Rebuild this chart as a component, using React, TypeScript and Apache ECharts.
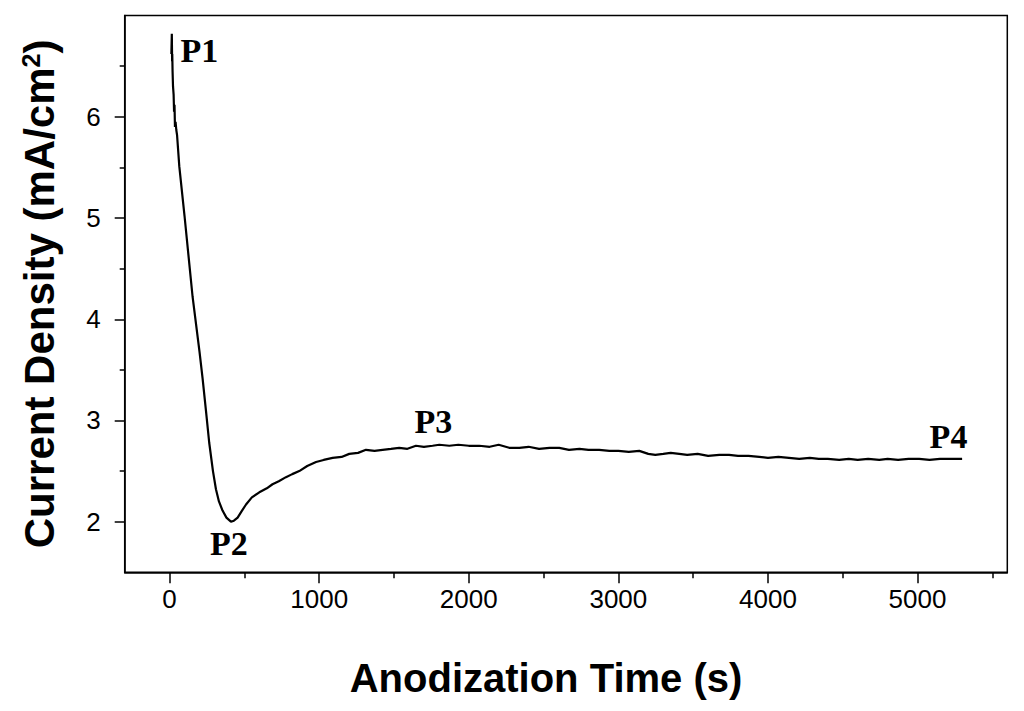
import React, { useEffect, useRef } from "react";
import * as echarts from "echarts";

// Anodization time (s)
const timeS: number[] = [
  12, 15, 17, 18, 20, 23, 27, 30, 33, 36, 40, 45, 50, 65, 100, 154, 200, 221, 243, 265, 290, 310, 330, 354, 380, 410,
  430, 455, 480, 511, 550, 600, 650, 688, 730, 778, 820, 867, 920, 979, 1030, 1090, 1150, 1201, 1260, 1313, 1370,
  1424, 1480, 1535, 1590, 1647, 1700, 1758, 1803, 1870, 1930, 2000, 2070, 2140, 2200, 2270, 2338, 2400, 2470, 2540,
  2605, 2670, 2740, 2800, 2872, 2940, 3000, 3070, 3140, 3200, 3247, 3300, 3350, 3407, 3460, 3530, 3600, 3675, 3740,
  3800, 3870, 3942, 4000, 4070, 4140, 4209, 4280, 4340, 4400, 4476, 4540, 4600, 4670, 4744, 4800, 4870, 4940, 5011,
  5080, 5150, 5220, 5298,
];

// Current density (mA/cm2)
const currentDensity: number[] = [
  6.62, 6.82, 6.55, 6.62, 6.45, 6.3, 6.22, 6.05, 6.12, 5.9, 5.95, 5.87, 5.82, 5.51, 5.02, 4.22, 3.68, 3.41, 3.1, 2.78,
  2.5, 2.32, 2.2, 2.11, 2.04, 2.0, 2.01, 2.04, 2.1, 2.17, 2.24, 2.29, 2.33, 2.37, 2.4, 2.44, 2.47, 2.5, 2.55, 2.59,
  2.61, 2.63, 2.64, 2.67, 2.68, 2.71, 2.7, 2.71, 2.72, 2.73, 2.72, 2.75, 2.74, 2.75, 2.76, 2.75, 2.76, 2.75, 2.75,
  2.74, 2.76, 2.73, 2.73, 2.74, 2.72, 2.73, 2.73, 2.71, 2.72, 2.71, 2.71, 2.7, 2.7, 2.69, 2.7, 2.67, 2.66, 2.67, 2.68,
  2.67, 2.66, 2.67, 2.65, 2.66, 2.66, 2.65, 2.65, 2.64, 2.63, 2.64, 2.63, 2.62, 2.63, 2.62, 2.62, 2.61, 2.62, 2.61,
  2.62, 2.61, 2.62, 2.61, 2.62, 2.62, 2.61, 2.62, 2.62, 2.62,
];

const xMajorTicks: number[] = [0, 1000, 2000, 3000, 4000, 5000];
const xMinorTicks: number[] = [500, 1500, 2500, 3500, 4500, 5500];
const yMajorTicks: number[] = [2, 3, 4, 5, 6];
const yMinorTicks: number[] = [2.5, 3.5, 4.5, 5.5, 6.5];

const pointLabels: string[] = ["P1", "P2", "P3", "P4"];
const pointTimes: number[] = [199, 396, 1763, 5207];
const pointValues: number[] = [6.66, 1.78, 2.99, 2.84];

const X_MIN = -300;
const X_MAX = 5600;
const Y_MIN = 1.5;
const Y_MAX = 7;

export default function App() {
  const ref = useRef<HTMLDivElement>(null);

  useEffect(() => {
    if (!ref.current) return;
    const chart = echarts.init(ref.current, undefined, { renderer: "svg" });
    const sans = "'Liberation Sans', Arial, sans-serif";
    const serif = "'Liberation Serif', 'Times New Roman', serif";
    const axisLine = { show: true, onZero: false, lineStyle: { color: "#000", width: 1.5 } };

    chart.setOption({
      animation: false,
      backgroundColor: "#fff",
      grid: {
        left: 124.7,
        right: 16.7,
        top: 15.6,
        bottom: 138.7,
        show: true,
        borderColor: "#000",
        borderWidth: 1.5,
        backgroundColor: "transparent",
      },
      xAxis: [
        {
          type: "value",
          min: X_MIN,
          max: X_MAX,
          position: "bottom",
          axisLine,
          splitLine: { show: false },
          axisTick: {
            show: true,
            inside: false,
            length: 11,
            customValues: xMajorTicks,
            lineStyle: { color: "#000", width: 1.5 },
          },
          axisLabel: {
            customValues: xMajorTicks,
            formatter: (v: number) => String(v),
            fontSize: 26,
            fontFamily: sans,
            color: "#000",
            margin: 14,
          },
          name: "Anodization Time (s)",
          nameLocation: "middle",
          nameGap: 86,
          nameTextStyle: {
            fontSize: 40,
            fontWeight: "bold",
            fontFamily: sans,
            color: "#000",
            padding: [0, 40, 0, 0],
          },
        },
        {
          type: "value",
          min: X_MIN,
          max: X_MAX,
          position: "bottom",
          axisLine: { show: false, onZero: false },
          splitLine: { show: false },
          axisTick: {
            show: true,
            inside: false,
            length: 6,
            customValues: xMinorTicks,
            lineStyle: { color: "#000", width: 1.5 },
          },
          axisLabel: { show: false },
        },
      ],
      yAxis: [
        {
          type: "value",
          min: Y_MIN,
          max: Y_MAX,
          position: "left",
          axisLine,
          splitLine: { show: false },
          axisTick: {
            show: true,
            inside: false,
            length: 10,
            customValues: yMajorTicks,
            lineStyle: { color: "#000", width: 1.5 },
          },
          axisLabel: {
            customValues: yMajorTicks,
            formatter: (v: number) => String(v),
            fontSize: 26,
            fontFamily: sans,
            color: "#000",
            margin: 24,
          },
          name: "Current Density (mA/cm{sup|2})",
          nameLocation: "middle",
          nameGap: 64,
          nameTextStyle: {
            fontSize: 42,
            fontWeight: "bold",
            fontFamily: sans,
            color: "#000",
            rich: {
              sup: { fontSize: 25, fontWeight: "bold", fontFamily: sans, color: "#000", verticalAlign: "top", lineHeight: 24 },
            },
          },
        },
        {
          type: "value",
          min: Y_MIN,
          max: Y_MAX,
          position: "left",
          axisLine: { show: false, onZero: false },
          splitLine: { show: false },
          axisTick: {
            show: true,
            inside: false,
            length: 5,
            customValues: yMinorTicks,
            lineStyle: { color: "#000", width: 1.5 },
          },
          axisLabel: { show: false },
        },
      ],
      series: [
        {
          type: "line",
          xAxisIndex: 0,
          yAxisIndex: 0,
          showSymbol: false,
          symbol: "none",
          lineStyle: { color: "#000", width: 2.2 },
          data: timeS.map((t, i) => [t, currentDensity[i]]),
          silent: true,
        },
        {
          type: "scatter",
          xAxisIndex: 0,
          yAxisIndex: 0,
          symbolSize: 0,
          silent: true,
          itemStyle: { opacity: 1 },
          data: pointLabels.map((n, i) => ({ name: n, value: [pointTimes[i], pointValues[i]] })),
          label: {
            show: true,
            position: "inside",
            formatter: (p: any) => p.name,
            fontFamily: serif,
            fontWeight: "bold",
            fontSize: 34,
            color: "#000",
            textBorderWidth: 0,
            opacity: 1,
          },
        },
      ],
    });

    return () => chart.dispose();
  }, []);

  return (
    <div
      ref={ref}
      style={{ position: "fixed", left: 0, top: 0, width: 1024, height: 711, background: "#fff" }}
    />
  );
}
